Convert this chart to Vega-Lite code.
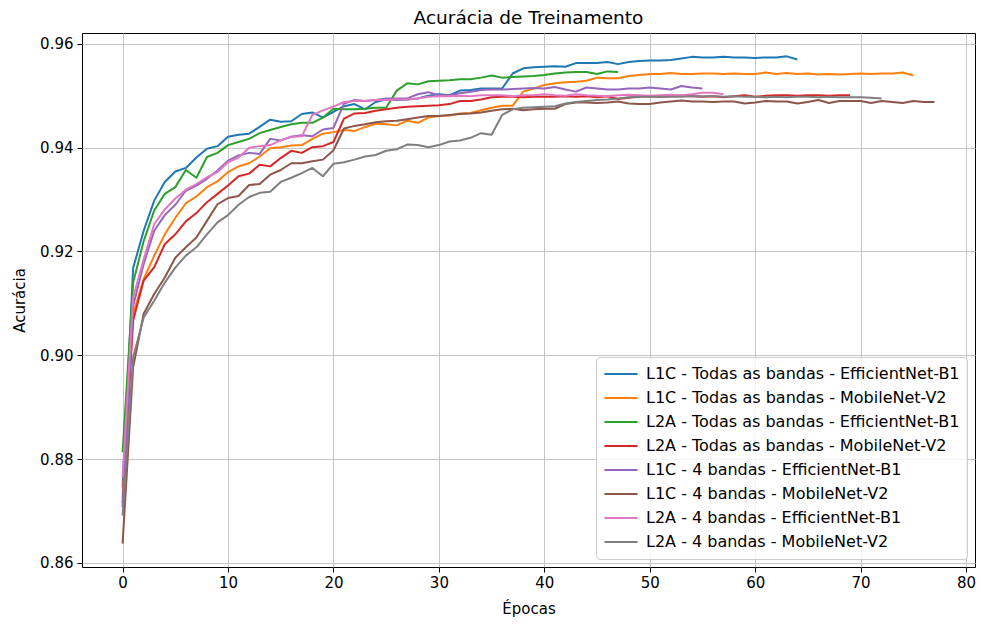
{
  "$schema": "https://vega.github.io/schema/vega-lite/v6.json",
  "width": 893,
  "height": 534,
  "autosize": {"type": "none"},
  "padding": {"left": 82, "top": 33, "right": 6, "bottom": 59},
  "title": {"text": "Acurácia de Treinamento", "fontSize": 18.5, "fontWeight": "normal", "font": "DejaVu Sans", "color": "#000000", "offset": 6, "anchor": "middle"},
  "config": {
    "font": "DejaVu Sans",
    "view": {"stroke": "#000000", "strokeWidth": 1},
    "axis": {"domain": false, "grid": true, "gridColor": "#c6c6c6", "gridWidth": 1, "tickColor": "#000000", "tickSize": 5, "tickWidth": 1, "labelFontSize": 15, "labelColor": "#000000", "labelFont": "DejaVu Sans", "titleFontSize": 15, "titleFontWeight": "normal", "titleColor": "#000000", "titleFont": "DejaVu Sans", "labelPadding": 3},
    "legend": {"orient": "bottom-right", "offset": 8, "symbolType": "stroke", "symbolSize": 1100, "symbolStrokeWidth": 2, "labelFontSize": 16, "labelFont": "DejaVu Sans", "labelColor": "#000000", "labelLimit": 0, "labelOffset": 7, "clipHeight": 20, "rowPadding": 4, "padding": 7, "fillColor": "rgba(255,255,255,0.8)", "strokeColor": "#cccccc", "cornerRadius": 4}
  },
  "encoding": {
    "x": {"field": "epoca", "type": "quantitative", "scale": {"domain": [-3.85, 80.85], "nice": false, "zero": false}, "axis": {"values": [0, 10, 20, 30, 40, 50, 60, 70, 80], "title": "Épocas", "titlePadding": 11, "format": "d"}},
    "y": {"field": "acuracia", "type": "quantitative", "scale": {"domain": [0.8592, 0.9621], "nice": false, "zero": false}, "axis": {"values": [0.86, 0.88, 0.9, 0.92, 0.94, 0.96], "format": ".2f", "title": "Acurácia", "titlePadding": 12, "labelPadding": 4}}
  },
  "datasets": {
    "l1c_todas_effb1": [
      {"epoca":0,"acuracia":0.8745},{"epoca":1,"acuracia":0.9168},{"epoca":2,"acuracia":0.924},{"epoca":3,"acuracia":0.9298},{"epoca":4,"acuracia":0.9334},{"epoca":5,"acuracia":0.9354},{"epoca":6,"acuracia":0.9361},{"epoca":7,"acuracia":0.9381},{"epoca":8,"acuracia":0.9398},{"epoca":9,"acuracia":0.9403},
      {"epoca":10,"acuracia":0.9421},{"epoca":11,"acuracia":0.9425},{"epoca":12,"acuracia":0.9427},{"epoca":13,"acuracia":0.944},{"epoca":14,"acuracia":0.9454},{"epoca":15,"acuracia":0.945},{"epoca":16,"acuracia":0.9451},{"epoca":17,"acuracia":0.9465},{"epoca":18,"acuracia":0.9468},{"epoca":19,"acuracia":0.9458},
      {"epoca":20,"acuracia":0.9469},{"epoca":21,"acuracia":0.948},{"epoca":22,"acuracia":0.9484},{"epoca":23,"acuracia":0.9474},{"epoca":24,"acuracia":0.9488},{"epoca":25,"acuracia":0.9493},{"epoca":26,"acuracia":0.9492},{"epoca":27,"acuracia":0.9493},{"epoca":28,"acuracia":0.9495},{"epoca":29,"acuracia":0.95},
      {"epoca":30,"acuracia":0.9503},{"epoca":31,"acuracia":0.9501},{"epoca":32,"acuracia":0.951},{"epoca":33,"acuracia":0.9511},{"epoca":34,"acuracia":0.9514},{"epoca":35,"acuracia":0.9514},{"epoca":36,"acuracia":0.9514},{"epoca":37,"acuracia":0.9543},{"epoca":38,"acuracia":0.9553},{"epoca":39,"acuracia":0.9555},
      {"epoca":40,"acuracia":0.9556},{"epoca":41,"acuracia":0.9557},{"epoca":42,"acuracia":0.9556},{"epoca":43,"acuracia":0.9563},{"epoca":44,"acuracia":0.9563},{"epoca":45,"acuracia":0.9563},{"epoca":46,"acuracia":0.9565},{"epoca":47,"acuracia":0.9561},{"epoca":48,"acuracia":0.9565},{"epoca":49,"acuracia":0.9567},
      {"epoca":50,"acuracia":0.9568},{"epoca":51,"acuracia":0.9568},{"epoca":52,"acuracia":0.9569},{"epoca":53,"acuracia":0.9572},{"epoca":54,"acuracia":0.9575},{"epoca":55,"acuracia":0.9574},{"epoca":56,"acuracia":0.9574},{"epoca":57,"acuracia":0.9575},{"epoca":58,"acuracia":0.9574},{"epoca":59,"acuracia":0.9574},
      {"epoca":60,"acuracia":0.9573},{"epoca":61,"acuracia":0.9574},{"epoca":62,"acuracia":0.9574},{"epoca":63,"acuracia":0.9576},{"epoca":64,"acuracia":0.957}
    ],
    "l1c_todas_mnv2": [
      {"epoca":0,"acuracia":0.8726},{"epoca":1,"acuracia":0.908},{"epoca":2,"acuracia":0.9147},{"epoca":3,"acuracia":0.9192},{"epoca":4,"acuracia":0.9233},{"epoca":5,"acuracia":0.9265},{"epoca":6,"acuracia":0.9293},{"epoca":7,"acuracia":0.9306},{"epoca":8,"acuracia":0.9324},{"epoca":9,"acuracia":0.9335},
      {"epoca":10,"acuracia":0.9353},{"epoca":11,"acuracia":0.9364},{"epoca":12,"acuracia":0.937},{"epoca":13,"acuracia":0.9383},{"epoca":14,"acuracia":0.9399},{"epoca":15,"acuracia":0.9401},{"epoca":16,"acuracia":0.9404},{"epoca":17,"acuracia":0.9405},{"epoca":18,"acuracia":0.9417},{"epoca":19,"acuracia":0.9427},
      {"epoca":20,"acuracia":0.943},{"epoca":21,"acuracia":0.9434},{"epoca":22,"acuracia":0.9432},{"epoca":23,"acuracia":0.944},{"epoca":24,"acuracia":0.9446},{"epoca":25,"acuracia":0.9445},{"epoca":26,"acuracia":0.9443},{"epoca":27,"acuracia":0.9452},{"epoca":28,"acuracia":0.9448},{"epoca":29,"acuracia":0.9458},
      {"epoca":30,"acuracia":0.9461},{"epoca":31,"acuracia":0.9462},{"epoca":32,"acuracia":0.9466},{"epoca":33,"acuracia":0.9467},{"epoca":34,"acuracia":0.9472},{"epoca":35,"acuracia":0.9477},{"epoca":36,"acuracia":0.9481},{"epoca":37,"acuracia":0.9481},{"epoca":38,"acuracia":0.9508},{"epoca":39,"acuracia":0.9514},
      {"epoca":40,"acuracia":0.9521},{"epoca":41,"acuracia":0.9524},{"epoca":42,"acuracia":0.9526},{"epoca":43,"acuracia":0.9527},{"epoca":44,"acuracia":0.9529},{"epoca":45,"acuracia":0.9535},{"epoca":46,"acuracia":0.9534},{"epoca":47,"acuracia":0.9534},{"epoca":48,"acuracia":0.9538},{"epoca":49,"acuracia":0.954},
      {"epoca":50,"acuracia":0.9542},{"epoca":51,"acuracia":0.9542},{"epoca":52,"acuracia":0.9544},{"epoca":53,"acuracia":0.9542},{"epoca":54,"acuracia":0.9542},{"epoca":55,"acuracia":0.9543},{"epoca":56,"acuracia":0.9543},{"epoca":57,"acuracia":0.9542},{"epoca":58,"acuracia":0.9543},{"epoca":59,"acuracia":0.9542},
      {"epoca":60,"acuracia":0.9542},{"epoca":61,"acuracia":0.9545},{"epoca":62,"acuracia":0.9542},{"epoca":63,"acuracia":0.9544},{"epoca":64,"acuracia":0.9542},{"epoca":65,"acuracia":0.9543},{"epoca":66,"acuracia":0.9541},{"epoca":67,"acuracia":0.9542},{"epoca":68,"acuracia":0.9541},{"epoca":69,"acuracia":0.9542},
      {"epoca":70,"acuracia":0.9543},{"epoca":71,"acuracia":0.9542},{"epoca":72,"acuracia":0.9543},{"epoca":73,"acuracia":0.9543},{"epoca":74,"acuracia":0.9545},{"epoca":75,"acuracia":0.9539}
    ],
    "l2a_todas_effb1": [
      {"epoca":0,"acuracia":0.8813},{"epoca":1,"acuracia":0.914},{"epoca":2,"acuracia":0.922},{"epoca":3,"acuracia":0.9279},{"epoca":4,"acuracia":0.9311},{"epoca":5,"acuracia":0.9324},{"epoca":6,"acuracia":0.9357},{"epoca":7,"acuracia":0.9342},{"epoca":8,"acuracia":0.9382},{"epoca":9,"acuracia":0.939},
      {"epoca":10,"acuracia":0.9405},{"epoca":11,"acuracia":0.9411},{"epoca":12,"acuracia":0.9417},{"epoca":13,"acuracia":0.9428},{"epoca":14,"acuracia":0.9434},{"epoca":15,"acuracia":0.944},{"epoca":16,"acuracia":0.9445},{"epoca":17,"acuracia":0.9448},{"epoca":18,"acuracia":0.9448},{"epoca":19,"acuracia":0.9458},
      {"epoca":20,"acuracia":0.9475},{"epoca":21,"acuracia":0.9474},{"epoca":22,"acuracia":0.9474},{"epoca":23,"acuracia":0.9475},{"epoca":24,"acuracia":0.9477},{"epoca":25,"acuracia":0.9477},{"epoca":26,"acuracia":0.951},{"epoca":27,"acuracia":0.9524},{"epoca":28,"acuracia":0.9522},{"epoca":29,"acuracia":0.9528},
      {"epoca":30,"acuracia":0.9529},{"epoca":31,"acuracia":0.953},{"epoca":32,"acuracia":0.9532},{"epoca":33,"acuracia":0.9532},{"epoca":34,"acuracia":0.9535},{"epoca":35,"acuracia":0.9539},{"epoca":36,"acuracia":0.9535},{"epoca":37,"acuracia":0.9536},{"epoca":38,"acuracia":0.9537},{"epoca":39,"acuracia":0.9538},
      {"epoca":40,"acuracia":0.954},{"epoca":41,"acuracia":0.9543},{"epoca":42,"acuracia":0.9545},{"epoca":43,"acuracia":0.9546},{"epoca":44,"acuracia":0.9546},{"epoca":45,"acuracia":0.9542},{"epoca":46,"acuracia":0.9547},{"epoca":47,"acuracia":0.9546}
    ],
    "l2a_todas_mnv2": [
      {"epoca":0,"acuracia":0.8715},{"epoca":1,"acuracia":0.9067},{"epoca":2,"acuracia":0.9144},{"epoca":3,"acuracia":0.917},{"epoca":4,"acuracia":0.9214},{"epoca":5,"acuracia":0.9233},{"epoca":6,"acuracia":0.9258},{"epoca":7,"acuracia":0.9274},{"epoca":8,"acuracia":0.9295},{"epoca":9,"acuracia":0.9311},
      {"epoca":10,"acuracia":0.9327},{"epoca":11,"acuracia":0.9345},{"epoca":12,"acuracia":0.935},{"epoca":13,"acuracia":0.9367},{"epoca":14,"acuracia":0.9364},{"epoca":15,"acuracia":0.938},{"epoca":16,"acuracia":0.9394},{"epoca":17,"acuracia":0.939},{"epoca":18,"acuracia":0.9401},{"epoca":19,"acuracia":0.9403},
      {"epoca":20,"acuracia":0.9411},{"epoca":21,"acuracia":0.9456},{"epoca":22,"acuracia":0.9466},{"epoca":23,"acuracia":0.9467},{"epoca":24,"acuracia":0.9471},{"epoca":25,"acuracia":0.9474},{"epoca":26,"acuracia":0.9477},{"epoca":27,"acuracia":0.9479},{"epoca":28,"acuracia":0.948},{"epoca":29,"acuracia":0.9481},
      {"epoca":30,"acuracia":0.9482},{"epoca":31,"acuracia":0.9484},{"epoca":32,"acuracia":0.949},{"epoca":33,"acuracia":0.949},{"epoca":34,"acuracia":0.9493},{"epoca":35,"acuracia":0.9497},{"epoca":36,"acuracia":0.9498},{"epoca":37,"acuracia":0.9498},{"epoca":38,"acuracia":0.9497},{"epoca":39,"acuracia":0.9498},
      {"epoca":40,"acuracia":0.9498},{"epoca":41,"acuracia":0.9498},{"epoca":42,"acuracia":0.9499},{"epoca":43,"acuracia":0.9498},{"epoca":44,"acuracia":0.9499},{"epoca":45,"acuracia":0.9497},{"epoca":46,"acuracia":0.9499},{"epoca":47,"acuracia":0.9494},{"epoca":48,"acuracia":0.9496},{"epoca":49,"acuracia":0.9498},
      {"epoca":50,"acuracia":0.9499},{"epoca":51,"acuracia":0.9498},{"epoca":52,"acuracia":0.9499},{"epoca":53,"acuracia":0.95},{"epoca":54,"acuracia":0.9499},{"epoca":55,"acuracia":0.9498},{"epoca":56,"acuracia":0.9499},{"epoca":57,"acuracia":0.9497},{"epoca":58,"acuracia":0.9499},{"epoca":59,"acuracia":0.9501},
      {"epoca":60,"acuracia":0.9498},{"epoca":61,"acuracia":0.95},{"epoca":62,"acuracia":0.9501},{"epoca":63,"acuracia":0.9501},{"epoca":64,"acuracia":0.95},{"epoca":65,"acuracia":0.9501},{"epoca":66,"acuracia":0.9501},{"epoca":67,"acuracia":0.95},{"epoca":68,"acuracia":0.9501},{"epoca":69,"acuracia":0.9501}
    ],
    "l1c_4_effb1": [
      {"epoca":0,"acuracia":0.8707},{"epoca":1,"acuracia":0.9095},{"epoca":2,"acuracia":0.9176},{"epoca":3,"acuracia":0.924},{"epoca":4,"acuracia":0.927},{"epoca":5,"acuracia":0.929},{"epoca":6,"acuracia":0.9317},{"epoca":7,"acuracia":0.9327},{"epoca":8,"acuracia":0.934},{"epoca":9,"acuracia":0.9356},
      {"epoca":10,"acuracia":0.9375},{"epoca":11,"acuracia":0.9385},{"epoca":12,"acuracia":0.939},{"epoca":13,"acuracia":0.9388},{"epoca":14,"acuracia":0.9417},{"epoca":15,"acuracia":0.9414},{"epoca":16,"acuracia":0.9421},{"epoca":17,"acuracia":0.9424},{"epoca":18,"acuracia":0.9422},{"epoca":19,"acuracia":0.9435},
      {"epoca":20,"acuracia":0.9438},{"epoca":21,"acuracia":0.9485},{"epoca":22,"acuracia":0.9492},{"epoca":23,"acuracia":0.949},{"epoca":24,"acuracia":0.9492},{"epoca":25,"acuracia":0.9495},{"epoca":26,"acuracia":0.9495},{"epoca":27,"acuracia":0.9495},{"epoca":28,"acuracia":0.9503},{"epoca":29,"acuracia":0.9507},
      {"epoca":30,"acuracia":0.9501},{"epoca":31,"acuracia":0.9501},{"epoca":32,"acuracia":0.9505},{"epoca":33,"acuracia":0.9508},{"epoca":34,"acuracia":0.9511},{"epoca":35,"acuracia":0.9512},{"epoca":36,"acuracia":0.9512},{"epoca":37,"acuracia":0.9513},{"epoca":38,"acuracia":0.9514},{"epoca":39,"acuracia":0.9515},
      {"epoca":40,"acuracia":0.9514},{"epoca":41,"acuracia":0.9517},{"epoca":42,"acuracia":0.9512},{"epoca":43,"acuracia":0.9508},{"epoca":44,"acuracia":0.9516},{"epoca":45,"acuracia":0.9514},{"epoca":46,"acuracia":0.9512},{"epoca":47,"acuracia":0.9512},{"epoca":48,"acuracia":0.9514},{"epoca":49,"acuracia":0.9514},
      {"epoca":50,"acuracia":0.9516},{"epoca":51,"acuracia":0.9514},{"epoca":52,"acuracia":0.9512},{"epoca":53,"acuracia":0.9519},{"epoca":54,"acuracia":0.9516},{"epoca":55,"acuracia":0.9514}
    ],
    "l1c_4_mnv2": [
      {"epoca":0,"acuracia":0.8637},{"epoca":1,"acuracia":0.8977},{"epoca":2,"acuracia":0.908},{"epoca":3,"acuracia":0.9118},{"epoca":4,"acuracia":0.915},{"epoca":5,"acuracia":0.9188},{"epoca":6,"acuracia":0.9208},{"epoca":7,"acuracia":0.9227},{"epoca":8,"acuracia":0.9259},{"epoca":9,"acuracia":0.9291},
      {"epoca":10,"acuracia":0.9303},{"epoca":11,"acuracia":0.9307},{"epoca":12,"acuracia":0.9328},{"epoca":13,"acuracia":0.933},{"epoca":14,"acuracia":0.9348},{"epoca":15,"acuracia":0.9357},{"epoca":16,"acuracia":0.937},{"epoca":17,"acuracia":0.937},{"epoca":18,"acuracia":0.9374},{"epoca":19,"acuracia":0.9377},
      {"epoca":20,"acuracia":0.9395},{"epoca":21,"acuracia":0.9437},{"epoca":22,"acuracia":0.9442},{"epoca":23,"acuracia":0.9445},{"epoca":24,"acuracia":0.9449},{"epoca":25,"acuracia":0.9451},{"epoca":26,"acuracia":0.9452},{"epoca":27,"acuracia":0.9455},{"epoca":28,"acuracia":0.9458},{"epoca":29,"acuracia":0.9461},
      {"epoca":30,"acuracia":0.9461},{"epoca":31,"acuracia":0.9463},{"epoca":32,"acuracia":0.9465},{"epoca":33,"acuracia":0.9466},{"epoca":34,"acuracia":0.9468},{"epoca":35,"acuracia":0.9471},{"epoca":36,"acuracia":0.9474},{"epoca":37,"acuracia":0.9475},{"epoca":38,"acuracia":0.9472},{"epoca":39,"acuracia":0.9474},
      {"epoca":40,"acuracia":0.9475},{"epoca":41,"acuracia":0.9475},{"epoca":42,"acuracia":0.9484},{"epoca":43,"acuracia":0.9487},{"epoca":44,"acuracia":0.9487},{"epoca":45,"acuracia":0.9486},{"epoca":46,"acuracia":0.9487},{"epoca":47,"acuracia":0.9489},{"epoca":48,"acuracia":0.9485},{"epoca":49,"acuracia":0.9484},
      {"epoca":50,"acuracia":0.9484},{"epoca":51,"acuracia":0.9487},{"epoca":52,"acuracia":0.9489},{"epoca":53,"acuracia":0.9491},{"epoca":54,"acuracia":0.9489},{"epoca":55,"acuracia":0.9489},{"epoca":56,"acuracia":0.9488},{"epoca":57,"acuracia":0.9489},{"epoca":58,"acuracia":0.9489},{"epoca":59,"acuracia":0.9485},
      {"epoca":60,"acuracia":0.9487},{"epoca":61,"acuracia":0.949},{"epoca":62,"acuracia":0.9489},{"epoca":63,"acuracia":0.9489},{"epoca":64,"acuracia":0.9485},{"epoca":65,"acuracia":0.9488},{"epoca":66,"acuracia":0.9492},{"epoca":67,"acuracia":0.9486},{"epoca":68,"acuracia":0.949},{"epoca":69,"acuracia":0.949},
      {"epoca":70,"acuracia":0.949},{"epoca":71,"acuracia":0.9486},{"epoca":72,"acuracia":0.949},{"epoca":73,"acuracia":0.9488},{"epoca":74,"acuracia":0.9486},{"epoca":75,"acuracia":0.949},{"epoca":76,"acuracia":0.9488},{"epoca":77,"acuracia":0.9488}
    ],
    "l2a_4_effb1": [
      {"epoca":0,"acuracia":0.8765},{"epoca":1,"acuracia":0.9111},{"epoca":2,"acuracia":0.9185},{"epoca":3,"acuracia":0.9253},{"epoca":4,"acuracia":0.9281},{"epoca":5,"acuracia":0.9302},{"epoca":6,"acuracia":0.9319},{"epoca":7,"acuracia":0.933},{"epoca":8,"acuracia":0.9343},{"epoca":9,"acuracia":0.9353},
      {"epoca":10,"acuracia":0.9372},{"epoca":11,"acuracia":0.9381},{"epoca":12,"acuracia":0.94},{"epoca":13,"acuracia":0.9403},{"epoca":14,"acuracia":0.9405},{"epoca":15,"acuracia":0.9414},{"epoca":16,"acuracia":0.9421},{"epoca":17,"acuracia":0.9422},{"epoca":18,"acuracia":0.9463},{"epoca":19,"acuracia":0.9472},
      {"epoca":20,"acuracia":0.9479},{"epoca":21,"acuracia":0.9488},{"epoca":22,"acuracia":0.949},{"epoca":23,"acuracia":0.949},{"epoca":24,"acuracia":0.9492},{"epoca":25,"acuracia":0.9492},{"epoca":26,"acuracia":0.9493},{"epoca":27,"acuracia":0.9493},{"epoca":28,"acuracia":0.9495},{"epoca":29,"acuracia":0.9498},
      {"epoca":30,"acuracia":0.9499},{"epoca":31,"acuracia":0.9499},{"epoca":32,"acuracia":0.95},{"epoca":33,"acuracia":0.9499},{"epoca":34,"acuracia":0.9501},{"epoca":35,"acuracia":0.9501},{"epoca":36,"acuracia":0.9501},{"epoca":37,"acuracia":0.9499},{"epoca":38,"acuracia":0.9501},{"epoca":39,"acuracia":0.9501},
      {"epoca":40,"acuracia":0.9503},{"epoca":41,"acuracia":0.9501},{"epoca":42,"acuracia":0.95},{"epoca":43,"acuracia":0.9503},{"epoca":44,"acuracia":0.9501},{"epoca":45,"acuracia":0.95},{"epoca":46,"acuracia":0.9499},{"epoca":47,"acuracia":0.9501},{"epoca":48,"acuracia":0.9502},{"epoca":49,"acuracia":0.9501},
      {"epoca":50,"acuracia":0.95},{"epoca":51,"acuracia":0.9501},{"epoca":52,"acuracia":0.9502},{"epoca":53,"acuracia":0.9501},{"epoca":54,"acuracia":0.9503},{"epoca":55,"acuracia":0.9506},{"epoca":56,"acuracia":0.9506},{"epoca":57,"acuracia":0.9503}
    ],
    "l2a_4_mnv2": [
      {"epoca":0,"acuracia":0.8691},{"epoca":1,"acuracia":0.8996},{"epoca":2,"acuracia":0.9073},{"epoca":3,"acuracia":0.9105},{"epoca":4,"acuracia":0.914},{"epoca":5,"acuracia":0.9169},{"epoca":6,"acuracia":0.9192},{"epoca":7,"acuracia":0.9208},{"epoca":8,"acuracia":0.9233},{"epoca":9,"acuracia":0.9256},
      {"epoca":10,"acuracia":0.927},{"epoca":11,"acuracia":0.929},{"epoca":12,"acuracia":0.9305},{"epoca":13,"acuracia":0.9313},{"epoca":14,"acuracia":0.9315},{"epoca":15,"acuracia":0.9334},{"epoca":16,"acuracia":0.9342},{"epoca":17,"acuracia":0.9351},{"epoca":18,"acuracia":0.9361},{"epoca":19,"acuracia":0.9345},
      {"epoca":20,"acuracia":0.9369},{"epoca":21,"acuracia":0.9372},{"epoca":22,"acuracia":0.9377},{"epoca":23,"acuracia":0.9383},{"epoca":24,"acuracia":0.9386},{"epoca":25,"acuracia":0.9394},{"epoca":26,"acuracia":0.9397},{"epoca":27,"acuracia":0.9406},{"epoca":28,"acuracia":0.9405},{"epoca":29,"acuracia":0.9401},
      {"epoca":30,"acuracia":0.9405},{"epoca":31,"acuracia":0.9412},{"epoca":32,"acuracia":0.9414},{"epoca":33,"acuracia":0.9419},{"epoca":34,"acuracia":0.9428},{"epoca":35,"acuracia":0.9425},{"epoca":36,"acuracia":0.9463},{"epoca":37,"acuracia":0.9474},{"epoca":38,"acuracia":0.9477},{"epoca":39,"acuracia":0.9478},
      {"epoca":40,"acuracia":0.9479},{"epoca":41,"acuracia":0.948},{"epoca":42,"acuracia":0.9485},{"epoca":43,"acuracia":0.9488},{"epoca":44,"acuracia":0.949},{"epoca":45,"acuracia":0.9492},{"epoca":46,"acuracia":0.9493},{"epoca":47,"acuracia":0.9495},{"epoca":48,"acuracia":0.9497},{"epoca":49,"acuracia":0.9498},
      {"epoca":50,"acuracia":0.9498},{"epoca":51,"acuracia":0.9498},{"epoca":52,"acuracia":0.9498},{"epoca":53,"acuracia":0.9498},{"epoca":54,"acuracia":0.9499},{"epoca":55,"acuracia":0.9499},{"epoca":56,"acuracia":0.9499},{"epoca":57,"acuracia":0.9498},{"epoca":58,"acuracia":0.9499},{"epoca":59,"acuracia":0.9498},
      {"epoca":60,"acuracia":0.9498},{"epoca":61,"acuracia":0.9497},{"epoca":62,"acuracia":0.9498},{"epoca":63,"acuracia":0.9497},{"epoca":64,"acuracia":0.9498},{"epoca":65,"acuracia":0.9498},{"epoca":66,"acuracia":0.9497},{"epoca":67,"acuracia":0.9498},{"epoca":68,"acuracia":0.9497},{"epoca":69,"acuracia":0.9497},
      {"epoca":70,"acuracia":0.9497},{"epoca":71,"acuracia":0.9496},{"epoca":72,"acuracia":0.9495}
    ]
  },
  "layer": [
    {"data": {"name": "l1c_todas_effb1"}, "mark": {"type": "line", "strokeWidth": 2, "strokeJoin": "round"}, "encoding": {"color": {"datum": "L1C - Todas as bandas - EfficientNet-B1", "type": "nominal", "scale": {"domain": ["L1C - Todas as bandas - EfficientNet-B1", "L1C - Todas as bandas - MobileNet-V2", "L2A - Todas as bandas - EfficientNet-B1", "L2A - Todas as bandas - MobileNet-V2", "L1C - 4 bandas - EfficientNet-B1", "L1C - 4 bandas - MobileNet-V2", "L2A - 4 bandas - EfficientNet-B1", "L2A - 4 bandas - MobileNet-V2"], "range": ["#1f77b4", "#ff7f0e", "#2ca02c", "#d62728", "#9467bd", "#8c564b", "#e377c2", "#7f7f7f"]}, "legend": {"title": null}}}},
    {"data": {"name": "l1c_todas_mnv2"}, "mark": {"type": "line", "strokeWidth": 2, "strokeJoin": "round"}, "encoding": {"color": {"datum": "L1C - Todas as bandas - MobileNet-V2", "type": "nominal"}}},
    {"data": {"name": "l2a_todas_effb1"}, "mark": {"type": "line", "strokeWidth": 2, "strokeJoin": "round"}, "encoding": {"color": {"datum": "L2A - Todas as bandas - EfficientNet-B1", "type": "nominal"}}},
    {"data": {"name": "l2a_todas_mnv2"}, "mark": {"type": "line", "strokeWidth": 2, "strokeJoin": "round"}, "encoding": {"color": {"datum": "L2A - Todas as bandas - MobileNet-V2", "type": "nominal"}}},
    {"data": {"name": "l1c_4_effb1"}, "mark": {"type": "line", "strokeWidth": 2, "strokeJoin": "round"}, "encoding": {"color": {"datum": "L1C - 4 bandas - EfficientNet-B1", "type": "nominal"}}},
    {"data": {"name": "l1c_4_mnv2"}, "mark": {"type": "line", "strokeWidth": 2, "strokeJoin": "round"}, "encoding": {"color": {"datum": "L1C - 4 bandas - MobileNet-V2", "type": "nominal"}}},
    {"data": {"name": "l2a_4_effb1"}, "mark": {"type": "line", "strokeWidth": 2, "strokeJoin": "round"}, "encoding": {"color": {"datum": "L2A - 4 bandas - EfficientNet-B1", "type": "nominal"}}},
    {"data": {"name": "l2a_4_mnv2"}, "mark": {"type": "line", "strokeWidth": 2, "strokeJoin": "round"}, "encoding": {"color": {"datum": "L2A - 4 bandas - MobileNet-V2", "type": "nominal"}}}
  ]
}
